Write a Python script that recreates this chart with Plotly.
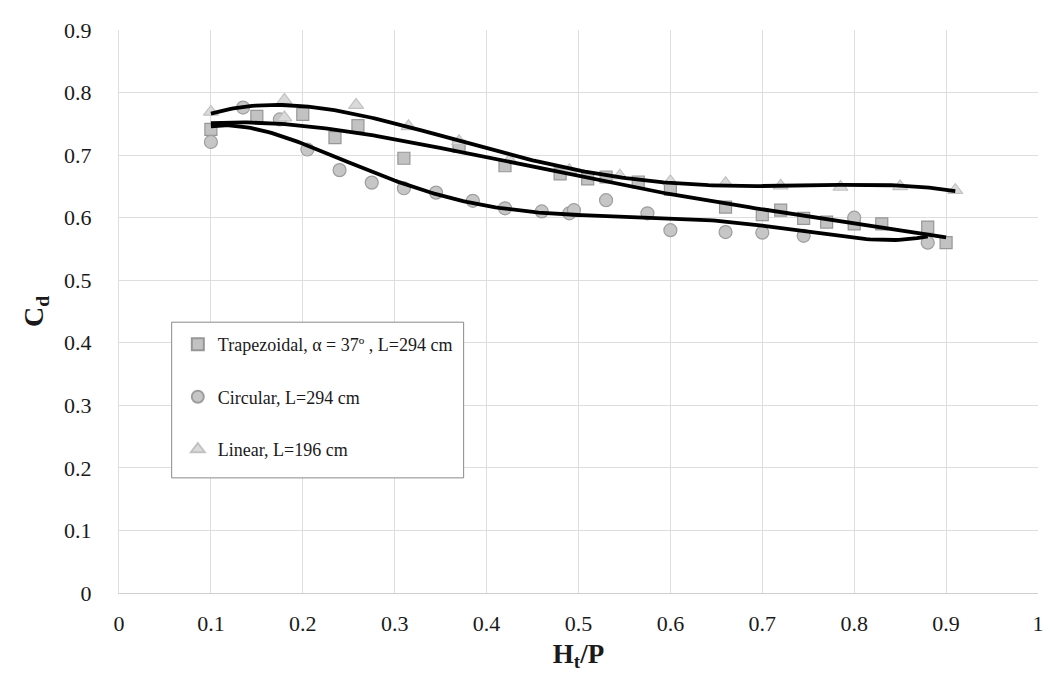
import numpy as np
import plotly.graph_objects as go

# Trapezoidal, alpha = 37, L=294 cm
trap_x = [0.10, 0.15, 0.20, 0.235, 0.26, 0.31, 0.37, 0.42, 0.48, 0.51, 0.53, 0.565, 0.60,
          0.66, 0.70, 0.72, 0.745, 0.77, 0.80, 0.83, 0.88, 0.90]
trap_y = [0.741, 0.762, 0.765, 0.728, 0.747, 0.695, 0.714, 0.683, 0.670, 0.662, 0.665, 0.657, 0.645,
          0.617, 0.605, 0.612, 0.599, 0.593, 0.590, 0.590, 0.585, 0.560]

# Circular, L=294 cm
circ_x = [0.10, 0.135, 0.175, 0.205, 0.24, 0.275, 0.31, 0.345, 0.385, 0.42, 0.46, 0.49, 0.495,
          0.53, 0.575, 0.60, 0.66, 0.70, 0.745, 0.80, 0.88]
circ_y = [0.721, 0.776, 0.757, 0.709, 0.676, 0.656, 0.647, 0.640, 0.627, 0.615, 0.610, 0.607, 0.612,
          0.628, 0.607, 0.580, 0.577, 0.576, 0.571, 0.600, 0.560]

# Linear, L=196 cm
lin_x = [0.10, 0.18, 0.18, 0.258, 0.315, 0.37, 0.425, 0.49, 0.545, 0.60, 0.66, 0.72, 0.785, 0.85, 0.91]
lin_y = [0.769, 0.788, 0.760, 0.780, 0.746, 0.722, 0.692, 0.676, 0.667, 0.658, 0.655, 0.651, 0.649, 0.650, 0.644]

x_ticks = [0, 0.1, 0.2, 0.3, 0.4, 0.5, 0.6, 0.7, 0.8, 0.9, 1]
y_ticks = [0, 0.1, 0.2, 0.3, 0.4, 0.5, 0.6, 0.7, 0.8, 0.9]

names = ["Trapezoidal, α = 37º , L=294 cm", "Circular, L=294 cm", "Linear, L=196 cm"]
FONT = "Liberation Serif"

fig = go.Figure()

def trend(xs, ys, deg):
    c = np.polyfit(xs, ys, deg)
    xx = np.linspace(min(xs), max(xs), 200)
    return xx, np.polyval(c, xx)

series = [
    (trap_x, trap_y, "square", "#c2c2c2", "#979797", 4, 12),
    (circ_x, circ_y, "circle", "#c6c6c6", "#9e9e9e", 5, 13),
    (lin_x, lin_y, "triangle-up", "#dadada", "#c2c2c2", 4, 13),
]

for i, (xs, ys, sym, fill, line, deg, size) in enumerate(series):
    fig.add_trace(go.Scatter(
        x=xs, y=ys, mode="markers", name=names[i], legendgroup=f"g{i}",
        marker=dict(symbol=sym, size=size, color=fill, line=dict(color=line, width=1.2)),
    ))

for i, (xs, ys, sym, fill, line, deg, size) in enumerate(series):
    tx, ty = trend(xs, ys, deg)
    fig.add_trace(go.Scatter(
        x=tx, y=ty, mode="lines", showlegend=False, hoverinfo="skip",
        line=dict(color="black", width=3.8),
    ))

# legend frame
fig.add_shape(type="rect", xref="paper", yref="paper",
              x0=0.0573, x1=0.375, y0=0.2045, y1=0.481,
              line=dict(color="#8a8a8a", width=1), fillcolor="white", layer="above")

fig.update_layout(
    width=1046, height=677,
    margin=dict(l=111, r=10, t=13, b=92),
    paper_bgcolor="white", plot_bgcolor="white",
    font=dict(family=FONT, size=22, color="#1a1a1a"),
    showlegend=True,
    legend=dict(
        x=0.064, y=0.474, xanchor="left", yanchor="top",
        borderwidth=0, bgcolor="rgba(0,0,0,0)",
        font=dict(family=FONT, size=18, color="#1a1a1a"),
        tracegroupgap=26, itemwidth=30, itemsizing="constant",
    ),
    xaxis=dict(
        range=[0, 1], tickvals=x_ticks, ticktext=[f"{v:g}" for v in x_ticks],
        showgrid=True, gridcolor="#dedede", gridwidth=1,
        zeroline=False, showline=True, linecolor="#cfcfcf", linewidth=1,
        ticks="", ticklabelstandoff=11,
        title=dict(text="<b>H<sub>t</sub>/P</b>", font=dict(family=FONT, size=27), standoff=8),
    ),
    yaxis=dict(
        range=[0, 0.9], tickvals=y_ticks, ticktext=[f"{v:g}" for v in y_ticks],
        showgrid=True, gridcolor="#dedede", gridwidth=1,
        zeroline=False, showline=True, linecolor="#dedede",
        ticks="", ticklabelstandoff=22,
        title=dict(text="<b>C<sub>d</sub></b>", font=dict(family=FONT, size=28), standoff=12),
    ),
)

fig.write_html("out.html")
